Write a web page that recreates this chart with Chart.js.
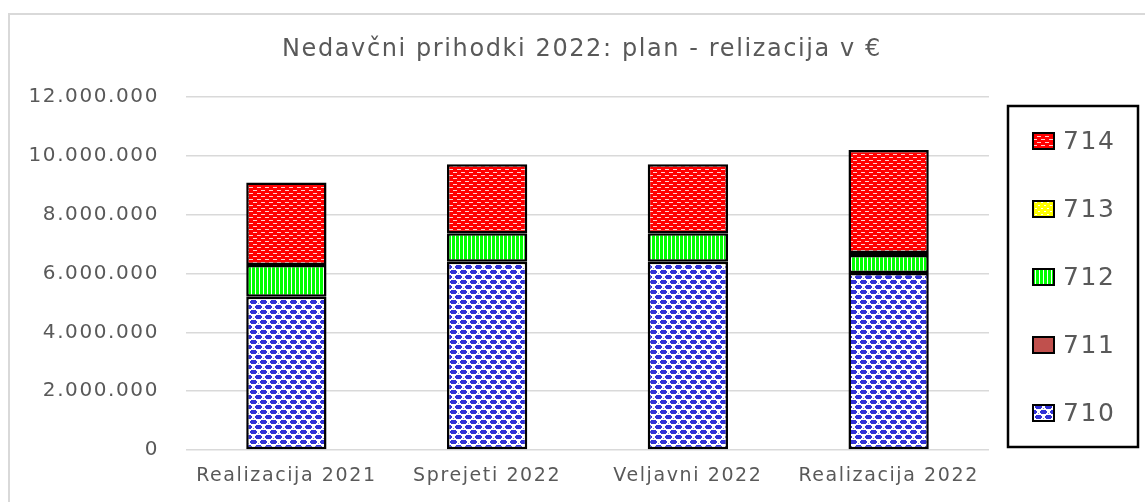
<!DOCTYPE html>
<html>
<head>
<meta charset="utf-8">
<script src="https://cdn.jsdelivr.net/npm/chart.js@4/dist/chart.umd.min.js"></script>
<style>
  html, body { margin: 0; padding: 0; background: #fff; }
  #wrap { width: 1145px; height: 502px; position: relative; }
</style>
</head>
<body>
<div id="wrap"><canvas id="c" width="1145" height="502"></canvas></div>
<script>
const categories = ['Realizacija 2021', 'Sprejeti 2022', 'Veljavni 2022', 'Realizacija 2022'];
const seriesNames = ['710', '711', '712', '713', '714'];
const s710 = [5210000, 6400000, 6400000, 6020000];
const s711 = [0, 0, 0, 0];
const s712 = [1080000, 970000, 970000, 610000];
const s713 = [0, 0, 0, 70000];
const s714 = [2800000, 2340000, 2340000, 3500000];
const yTicks = [0, 2000000, 4000000, 6000000, 8000000, 10000000, 12000000];
const titleText = 'Nedavčni prihodki 2022: plan - relizacija v €';

const FONT = 'DejaVu Sans';
const TEXT = '#595959';
const SPACING = '1.6px';

function makePattern(w, h, draw) {
  const c = document.createElement('canvas');
  c.width = w; c.height = h;
  const g = c.getContext('2d');
  draw(g);
  return document.getElementById('c').getContext('2d').createPattern(c, 'repeat');
}
const pat710 = makePattern(10, 10, g => {
  g.fillStyle = '#ffffff'; g.fillRect(0, 0, 10, 10);
  g.fillStyle = '#3232d6';
  g.fillRect(1, 0, 5, 4); g.fillRect(0, 1, 7, 2);
  g.fillRect(6, 5, 5, 4); g.fillRect(5, 6, 5, 2); g.fillRect(0, 5, 1, 4); g.fillRect(0, 6, 2, 2);
  g.fillStyle = '#8080e8';
  g.fillRect(3, 8, 1, 1); g.fillRect(8, 3, 1, 1);
});
const pat711 = '#c0504d';
const pat712 = makePattern(4, 1, g => {
  g.fillStyle = '#00ff00'; g.fillRect(0, 0, 4, 1);
  g.fillStyle = '#ffffff'; g.fillRect(3, 0, 1, 1);
});
const pat713 = makePattern(6, 6, g => {
  g.fillStyle = '#ffff00'; g.fillRect(0, 0, 6, 6);
  g.fillStyle = '#ffffff'; g.fillRect(0, 1, 2, 1); g.fillRect(3, 4, 2, 1);
});
const pat714 = makePattern(8, 6, g => {
  g.fillStyle = '#ff0000'; g.fillRect(0, 0, 8, 6);
  g.fillStyle = '#ffd0d0'; g.fillRect(1, 1, 4, 1); g.fillRect(5, 4, 3, 1); g.fillRect(0, 4, 1, 1);
});

const fills = [pat710, pat711, pat712, pat713, pat714];
const values = [s710, s711, s712, s713, s714];

const datasets = seriesNames.map((n, i) => ({
  label: n,
  data: values[i],
  backgroundColor: fills[i],
  borderColor: '#000000',
  borderWidth: 2.5,
  borderSkipped: false,
  barPercentage: 0.4,
  categoryPercentage: 1.0
}));

const spacing = {
  id: 'spacing',
  beforeLayout(chart) { chart.ctx.letterSpacing = SPACING; },
  beforeDraw(chart) { chart.ctx.letterSpacing = SPACING; }
};

const frame = {
  id: 'frame',
  beforeDraw(chart) {
    const ctx = chart.ctx;
    ctx.save();
    ctx.strokeStyle = '#d9d9d9';
    ctx.lineWidth = 2;
    ctx.strokeRect(9, 14, 1300, 700);
    ctx.fillStyle = TEXT;
    ctx.font = '24px "' + FONT + '"';
    ctx.textAlign = 'center';
    ctx.textBaseline = 'middle';
    ctx.fillText(titleText, 582, 50);
    ctx.restore();
  }
};

const boxLegend = {
  id: 'boxLegend',
  afterDraw(chart) {
    const ctx = chart.ctx;
    ctx.save();
    ctx.strokeStyle = '#000';
    ctx.lineWidth = 2.5;
    ctx.strokeRect(1008, 106, 130, 341);
    const ds = chart.data.datasets;
    const ys = [141, 209, 277, 345, 413];
    ctx.font = '25px "' + FONT + '"';
    ctx.textBaseline = 'middle';
    for (let k = 0; k < ds.length; k++) {
      const d = ds[ds.length - 1 - k];
      const y = ys[k];
      ctx.fillStyle = d.backgroundColor;
      ctx.fillRect(1033, y - 8, 21, 16);
      ctx.strokeStyle = '#000';
      ctx.lineWidth = 2;
      ctx.strokeRect(1033, y - 8, 21, 16);
      ctx.fillStyle = TEXT;
      ctx.fillText(d.label, 1063, y + 1);
    }
    ctx.restore();
  }
};

new Chart(document.getElementById('c'), {
  type: 'bar',
  data: { labels: categories, datasets },
  plugins: [spacing, frame, boxLegend],
  options: {
    responsive: false,
    animation: false,
    layout: { padding: { left: 0, right: 156, top: 97, bottom: 0 } },
    plugins: {
      legend: { display: false },
      tooltip: { enabled: false },
      title: { display: false }
    },
    scales: {
      x: {
        stacked: true,
        grid: { display: false },
        border: { display: false },
        ticks: { color: TEXT, font: { family: FONT, size: 19 }, padding: 7, maxRotation: 0 },
        afterFit(s) { s.height = 52; }
      },
      y: {
        stacked: true,
        min: 0,
        max: 12000000,
        border: { display: false },
        grid: { color: '#d9d9d9', lineWidth: 1.5, drawTicks: false },
        afterBuildTicks(s) { s.ticks = yTicks.map(v => ({ value: v })); },
        ticks: {
          color: TEXT,
          font: { family: FONT, size: 20 },
          padding: 27,
          callback: v => v === 0 ? '0' : v.toLocaleString('de-DE')
        },
        afterFit(s) { s.width = 186; }
      }
    }
  }
});
</script>
</body>
</html>
